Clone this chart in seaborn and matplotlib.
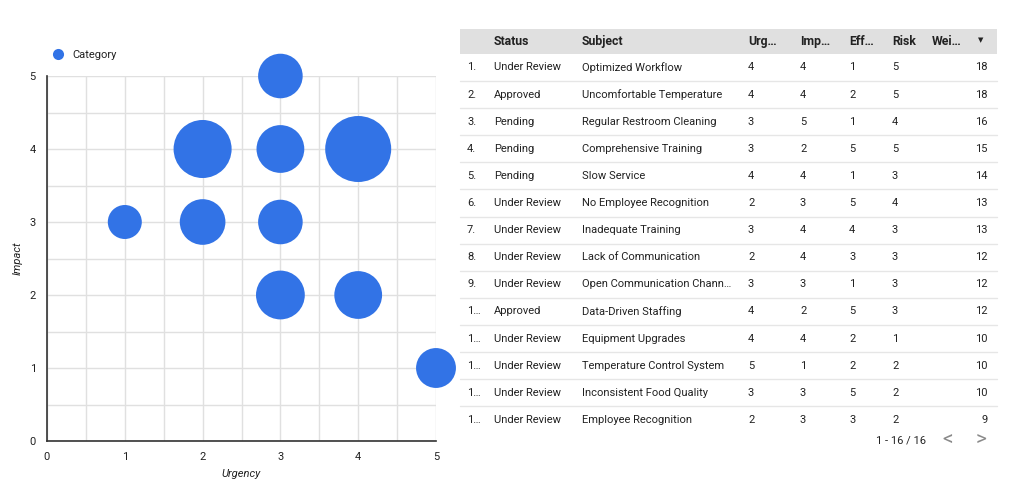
import pandas as pd
import numpy as np
import seaborn as sns
import matplotlib.pyplot as plt
from matplotlib.lines import Line2D

# Bubble chart data (aggregated points)
bubble_urgency = [3, 2, 3, 4, 1, 2, 3, 3, 4, 5]
bubble_impact = [5, 4, 4, 4, 3, 3, 3, 2, 2, 1]
bubble_value = [20, 34, 23, 44, 11.6, 21, 20, 24, 23, 16]

# Table data
status = ['Under Review', 'Approved', 'Pending', 'Pending', 'Pending', 'Under Review',
          'Under Review', 'Under Review', 'Under Review', 'Approved', 'Under Review',
          'Under Review', 'Under Review', 'Under Review']
subject = ['Optimized Workflow', 'Uncomfortable Temperature', 'Regular Restroom Cleaning',
           'Comprehensive Training', 'Slow Service', 'No Employee Recognition',
           'Inadequate Training', 'Lack of Communication', 'Open Communication Chann…',
           'Data-Driven Staffing', 'Equipment Upgrades', 'Temperature Control System',
           'Inconsistent Food Quality', 'Employee Recognition']
urgency = [4, 4, 3, 3, 4, 2, 3, 2, 3, 4, 4, 5, 3, 2]
impact = [4, 4, 5, 2, 4, 3, 4, 4, 3, 2, 4, 1, 3, 3]
effort = [1, 2, 1, 5, 1, 5, 4, 3, 1, 5, 2, 2, 5, 3]
risk = [5, 5, 4, 5, 3, 4, 3, 3, 3, 3, 1, 2, 2, 2]
weight = [18, 18, 16, 15, 14, 13, 13, 12, 12, 12, 10, 10, 10, 9]
headers = ['Status', 'Subject', 'Urg…', 'Imp…', 'Eff…', 'Risk', 'Wei…']
pager_text = '1 - 16 / 16'

sns.set_theme(style='white')
plt.rcParams['font.family'] = ['Roboto', 'DejaVu Sans']

blue = '#3273e6'
grid_col = '#e0e0e0'
text_col = '#222222'

fig = plt.figure(figsize=(10.24, 5.04), dpi=100)

# ---- bubble chart ----
ax = fig.add_axes([47 / 1024, 63 / 504, 389 / 1024, 365 / 504])
df = pd.DataFrame({'Urgency': bubble_urgency, 'Impact': bubble_impact, 'Value': bubble_value})
d_min, d_max = 34, 66  # bubble diameters in px
sns.scatterplot(data=df, x='Urgency', y='Impact', size='Value',
                sizes=((d_min * 0.72) ** 2, (d_max * 0.72) ** 2),
                size_norm=(min(bubble_value), max(bubble_value)),
                color=blue, edgecolor='none', alpha=1, legend=False,
                clip_on=False, zorder=3, ax=ax)
ax.set_xlim(0, 5)
ax.set_ylim(0, 5)
ax.set_xticks(range(6))
ax.set_yticks(range(6))
ax.set_xticks(np.arange(0.5, 5, 1), minor=True)
ax.set_yticks(np.arange(0.5, 5, 1), minor=True)
ax.grid(True, which='both', color=grid_col, linewidth=1)
ax.set_axisbelow(True)
for side in ['top', 'right']:
    ax.spines[side].set_visible(False)
for side in ['left', 'bottom']:
    ax.spines[side].set_color('#333333')
    ax.spines[side].set_linewidth(1.2)
ax.tick_params(axis='both', which='both', length=0, labelsize=8, colors=text_col, pad=8)
ax.set_xlabel('Urgency', fontsize=8, style='italic', color=text_col, labelpad=5)
ax.set_ylabel('Impact', fontsize=8, style='italic', color=text_col, labelpad=5)

handle = Line2D([], [], marker='o', linestyle='none', markersize=8,
                markerfacecolor=blue, markeredgecolor='none', label='Category')
fig.legend(handles=[handle], loc='center left', bbox_to_anchor=(37 / 1024, 1 - 55 / 504),
           frameon=False, fontsize=8, handletextpad=0.3, labelcolor=text_col)

# ---- table ----
tx = fig.add_axes([0, 0, 1, 1])
tx.set_xlim(0, 1024)
tx.set_ylim(504, 0)
tx.axis('off')

left, right = 460, 997
tx.add_patch(plt.Rectangle((left, 29), right - left, 25, color='#e0e0e0', lw=0))
col_x = [494, 582, 748, 800, 849, 892, 932]
head_y = 41.5
for h, x in zip(headers, col_x):
    tx.text(x, head_y, h, fontsize=8.8, fontweight='bold', color=text_col, va='center')
tx.text(981, head_y - 1, '▼', fontsize=5, color=text_col, va='center', ha='center',
        family=['DejaVu Sans'])

fs = 8
row_h = 27.1
y0 = 67.5
for i in range(len(subject)):
    y = y0 + i * row_h
    idx = f'{i + 1}.' if i < 9 else '1…'
    tx.text(467, y, idx, fontsize=fs, color=text_col, va='center')
    tx.text(col_x[0], y, status[i], fontsize=fs, color=text_col, va='center')
    tx.text(col_x[1], y, subject[i], fontsize=fs, color=text_col, va='center')
    for x, v in zip(col_x[2:6], [urgency[i], impact[i], effort[i], risk[i]]):
        tx.text(x, y, str(v), fontsize=fs, color=text_col, va='center')
    tx.text(988, y, str(weight[i]), fontsize=fs, color=text_col, va='center', ha='right')
    if i < len(subject) - 1:
        tx.plot([left, right], [y + row_h / 2, y + row_h / 2], color='#e6e6e6', lw=1)

tx.text(926, 441, pager_text, fontsize=fs, color=text_col, va='center', ha='right')
tx.text(948, 440, '<', fontsize=15, color='#8a8a8a', va='center', ha='center')
tx.text(981, 440, '>', fontsize=15, color='#8a8a8a', va='center', ha='center')

fig.savefig('out.png', dpi=100, facecolor='white')
